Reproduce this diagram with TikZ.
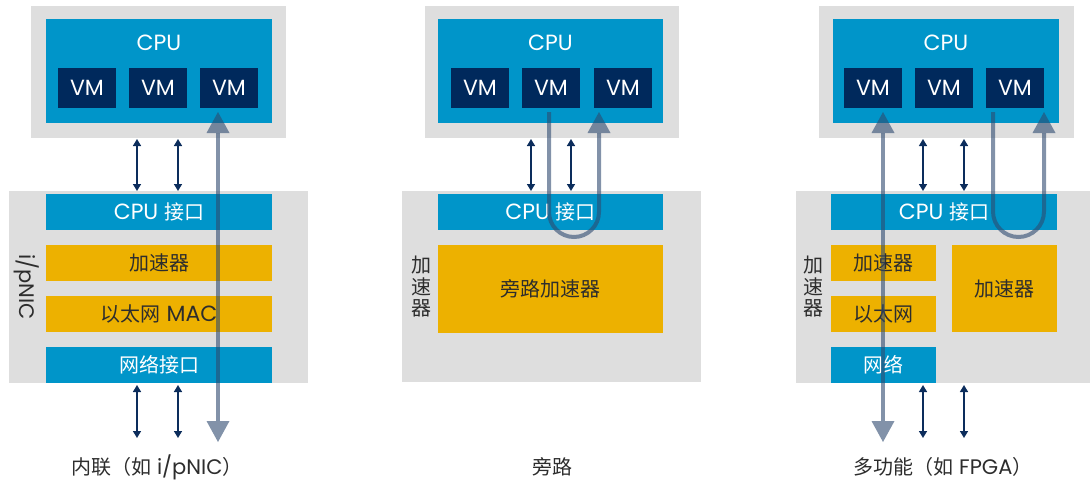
\documentclass[tikz,border=0pt]{standalone}
\usepackage{fontspec}
\setmainfont{Poppins}
\newfontfamily\cjk{Noto Sans CJK SC}
\usetikzlibrary{arrows.meta}
\definecolor{bggray}{RGB}{222,222,222}
\definecolor{cpublue}{RGB}{0,149,201}
\definecolor{vmnavy}{RGB}{0,41,92}
\definecolor{accyellow}{RGB}{237,177,0}
\definecolor{darktext}{RGB}{45,45,45}
\definecolor{linknavy}{RGB}{12,45,92}
\definecolor{flowblue}{RGB}{46,74,112}
\newcommand\zh[1]{{\cjk\fontsize{20}{24}\selectfont #1}}
\newcommand\mybox[7]{\node[#6, minimum width={(#4-#2)*1pt}, minimum height={(#5-#3)*1pt}] (#1) at ({(#2+#4)/2},{(#3+#5)/2}) {#7};}
\tikzset{
  basebox/.style={rectangle, inner sep=0pt, outer sep=0pt, anchor=center, font=\fontsize{22}{24}\selectfont},
  graybox/.style={basebox, fill=bggray},
  bluebox/.style={basebox, fill=cpublue, text=white},
  vmbox/.style={basebox, fill=vmnavy, text=white},
  yellowbox/.style={basebox, fill=accyellow, text=darktext},
  toplabel/.style={text=white, inner sep=0pt, font=\fontsize{22}{24}\selectfont},
  sidelabel/.style={text=darktext, inner sep=0pt, align=center},
  caption/.style={text=darktext, inner sep=0pt, font=\fontsize{21}{24}\selectfont},
  link/.style={draw=linknavy, line width=1.5pt, {Triangle[width=8pt,length=7pt]}-{Triangle[width=8pt,length=7pt]}},
  flow/.style={draw=flowblue, opacity=0.6, line width=4pt},
  flowtip/.style={-{Triangle[width=23pt,length=21pt,line width=0pt]}},
  flowboth/.style={{Triangle[width=23pt,length=21pt,line width=0pt]}-{Triangle[width=23pt,length=21pt,line width=0pt]}},
}
\begin{document}
\begin{tikzpicture}[x=1pt,y=-1pt]
\useasboundingbox (0,0) rectangle (1090,482);
% ================= Panel 1 =================
\mybox{p1top}{31}{6}{286}{138}{graybox}{}
\mybox{p1cpu}{46}{19}{272}{123}{bluebox}{}
\node[toplabel] (p1cpul) at (159,43) {CPU};
\mybox{p1vm1}{58}{68}{116}{108}{vmbox}{VM}
\mybox{p1vm2}{129}{68}{187}{108}{vmbox}{VM}
\mybox{p1vm3}{200}{68}{258}{108}{vmbox}{VM}
\mybox{p1nic}{9}{191}{308}{383}{graybox}{}
\mybox{p1if}{46}{194}{272}{230}{bluebox}{CPU \zh{接口}}
\mybox{p1acc}{46}{245}{272}{281}{yellowbox}{\zh{加速器}}
\mybox{p1mac}{46}{296}{272}{332}{yellowbox}{\zh{以太网} MAC}
\mybox{p1net}{46}{347}{272}{383}{bluebox}{\zh{网络接口}}
\node[sidelabel, rotate=-90, font=\fontsize{21}{24}\selectfont] (p1side) at (27,287) {i/pNIC};
\coordinate (p1a1t) at (137,139); \coordinate (p1a1b) at (137,191);
\coordinate (p1a2t) at (178,139); \coordinate (p1a2b) at (178,191);
\coordinate (p1b1t) at (137,385); \coordinate (p1b1b) at (137,438);
\coordinate (p1b2t) at (178,385); \coordinate (p1b2b) at (178,438);
\draw[link] (p1a1t) -- (p1a1b);
\draw[link] (p1a2t) -- (p1a2b);
\draw[link] (p1b1t) -- (p1b1b);
\draw[link] (p1b2t) -- (p1b2b);
\coordinate (p1ft) at (218,112); \coordinate (p1fb) at (218,442);
\draw[flow, flowboth] (p1fb) -- (p1ft);
\node[caption] (p1cap) at (157,467) {\zh{内联（如} i/pNIC\zh{）}};
% ================= Panel 2 =================
\mybox{p2top}{425}{6}{679}{138}{graybox}{}
\mybox{p2cpu}{438}{19}{663}{123}{bluebox}{}
\node[toplabel] (p2cpul) at (550.5,43) {CPU};
\mybox{p2vm1}{451}{68}{509}{108}{vmbox}{VM}
\mybox{p2vm2}{522}{68}{580}{108}{vmbox}{VM}
\mybox{p2vm3}{594}{68}{652}{108}{vmbox}{VM}
\mybox{p2nic}{402}{191}{701}{382}{graybox}{}
\mybox{p2if}{438}{194}{663}{230}{bluebox}{CPU \zh{接口}}
\mybox{p2acc}{438}{245}{663}{333}{yellowbox}{\zh{旁路加速器}}
\node[sidelabel, font=\cjk\fontsize{20}{21.5}\selectfont] (p2side) at (421,287) {加\\速\\器};
\coordinate (p2a1t) at (531,139); \coordinate (p2a1b) at (531,191);
\coordinate (p2a2t) at (571,139); \coordinate (p2a2b) at (571,191);
\draw[link] (p2a1t) -- (p2a1b);
\draw[link] (p2a2t) -- (p2a2b);
\coordinate (p2fs) at (549,112); \coordinate (p2fl) at (549,237);
\coordinate (p2fr) at (599,237); \coordinate (p2fe) at (599,112);
\draw[flow, flowtip, rounded corners=25pt] (p2fs) -- (p2fl) -- (p2fr) -- (p2fe);
\node[caption] (p2cap) at (552,467) {\zh{旁路}};
% ================= Panel 3 =================
\mybox{p3top}{819}{6}{1074}{138}{graybox}{}
\mybox{p3cpu}{833}{19}{1059}{123}{bluebox}{}
\node[toplabel] (p3cpul) at (946,43) {CPU};
\mybox{p3vm1}{844}{68}{902}{108}{vmbox}{VM}
\mybox{p3vm2}{915}{68}{973}{108}{vmbox}{VM}
\mybox{p3vm3}{986}{68}{1044}{108}{vmbox}{VM}
\mybox{p3nic}{796}{191}{1090}{383}{graybox}{}
\mybox{p3if}{831}{194}{1057}{230}{bluebox}{CPU \zh{接口}}
\mybox{p3acc}{831}{245}{936}{281}{yellowbox}{\zh{加速器}}
\mybox{p3eth}{831}{296}{936}{332}{yellowbox}{\zh{以太网}}
\mybox{p3net}{831}{347}{936}{383}{bluebox}{\zh{网络}}
\mybox{p3big}{952}{245}{1057}{332}{yellowbox}{\zh{加速器}}
\node[sidelabel, font=\cjk\fontsize{20}{21.5}\selectfont] (p3side) at (813,287) {加\\速\\器};
\coordinate (p3a1t) at (923,139); \coordinate (p3a1b) at (923,191);
\coordinate (p3a2t) at (964,139); \coordinate (p3a2b) at (964,191);
\coordinate (p3b1t) at (923,385); \coordinate (p3b1b) at (923,438);
\coordinate (p3b2t) at (964,385); \coordinate (p3b2b) at (964,438);
\draw[link] (p3a1t) -- (p3a1b);
\draw[link] (p3a2t) -- (p3a2b);
\draw[link] (p3b1t) -- (p3b1b);
\draw[link] (p3b2t) -- (p3b2b);
\coordinate (p3ft) at (883,112); \coordinate (p3fb) at (883,442);
\draw[flow, flowboth] (p3fb) -- (p3ft);
\coordinate (p3fs) at (993,112); \coordinate (p3fl) at (993,237);
\coordinate (p3fr) at (1044,237); \coordinate (p3fe) at (1044,112);
\draw[flow, flowtip, rounded corners=25.5pt] (p3fs) -- (p3fl) -- (p3fr) -- (p3fe);
\node[caption] (p3cap) at (943,467) {\zh{多功能（如} FPGA\zh{）}};
\end{tikzpicture}
\end{document}
